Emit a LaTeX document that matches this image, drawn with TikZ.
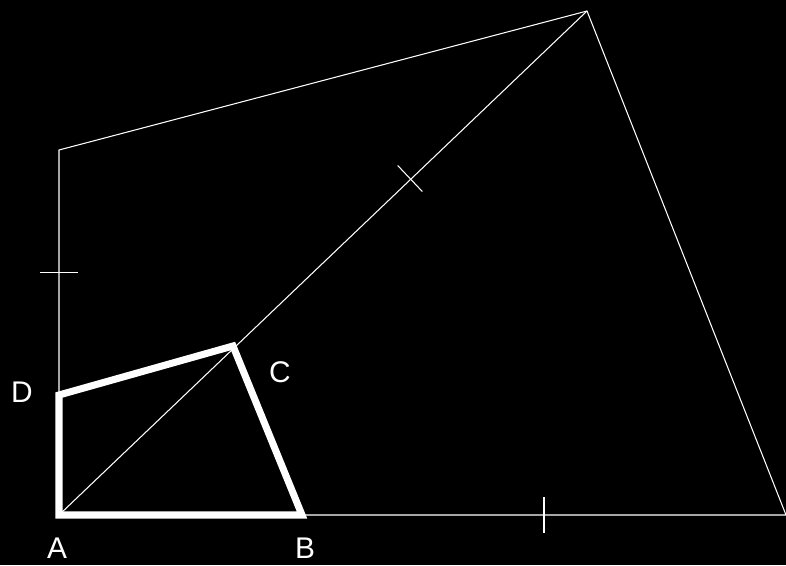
\documentclass[tikz,border=0pt]{standalone}
\usepackage{fontspec}
\setmainfont{Liberation Sans}
\usetikzlibrary{calc}
\begin{document}
\begin{tikzpicture}[
  x=0.02cm,y=-0.02cm,
  thin line/.style={draw=white, line width=0.6pt},
  thick line/.style={draw=white, line width=4pt, line join=miter},
  label/.style={text=white, font=\fontsize{17}{20}\selectfont, inner sep=0pt}
]
\fill[black] (0,0) rectangle (786,565);
\useasboundingbox (0,0) rectangle (786,565);

% small quadrilateral
\coordinate (A) at (59,515);
\coordinate (B) at (302,515);
\coordinate (C) at (233,346);
\coordinate (D) at (59,395);
% large quadrilateral
\coordinate (B2) at (786,515);
\coordinate (C2) at (587,11);
\coordinate (D2) at (59,150);

\draw[thin line] (A) -- (B2) -- (C2) -- (D2) -- cycle;
\draw[thin line] (A) -- (C2);
\draw[thick line] (A) -- (B) -- (C) -- (D) -- cycle;

% equal-length ticks
\coordinate (M1) at ($(D)!0.5!(D2)$);
\coordinate (M2) at ($(B)!0.5!(B2)$);
\coordinate (M3) at ($(C)!0.5!(C2)$);
\draw[thin line] ($(M1)!0.38cm!90:(D)$) -- ($(M1)!0.38cm!-90:(D)$);
\draw[thin line] ($(M2)!0.36cm!90:(B)$) -- ($(M2)!0.36cm!-90:(B)$);
\draw[thin line] ($(M3)!0.36cm!90:(C)$) -- ($(M3)!0.36cm!-90:(C)$);

\node[label] (lA) at (57,548) {A};
\node[label] (lB) at (305,548) {B};
\node[label] (lC) at (280,372) {C};
\node[label] (lD) at (22,392) {D};
\end{tikzpicture}
\end{document}
